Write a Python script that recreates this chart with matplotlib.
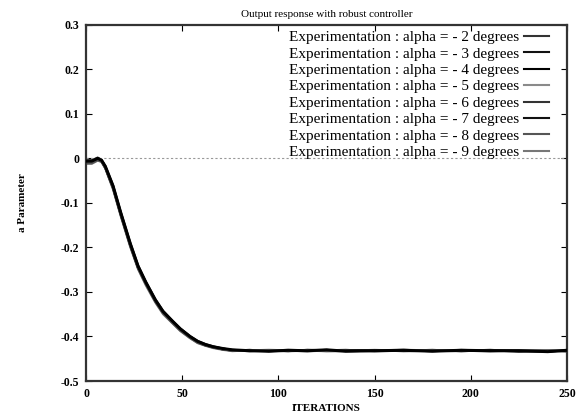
import matplotlib
matplotlib.use("Agg")
import matplotlib.pyplot as plt

iterations = [0, 3, 6, 8, 10, 14, 18, 23, 27, 31, 36, 40, 45, 49, 54, 58, 62, 66,
              71, 76, 85, 95, 105, 115, 125, 135, 150, 165, 180, 195, 210, 225, 240, 250]

alpha_m2 = [-0.008, -0.008, -0.002, -0.005, -0.020, -0.065, -0.125, -0.195, -0.245,
            -0.280, -0.320, -0.346, -0.368, -0.385, -0.402, -0.413, -0.419, -0.424,
            -0.428, -0.432, -0.431, -0.432, -0.433, -0.430, -0.431, -0.432, -0.431,
            -0.430, -0.432, -0.433, -0.431, -0.434, -0.432, -0.433]
alpha_m3 = [-0.010, -0.010, -0.004, -0.007, -0.022, -0.068, -0.128, -0.198, -0.247,
            -0.283, -0.322, -0.348, -0.370, -0.386, -0.403, -0.414, -0.420, -0.425,
            -0.429, -0.431, -0.432, -0.431, -0.432, -0.431, -0.432, -0.431, -0.432,
            -0.431, -0.431, -0.432, -0.432, -0.433, -0.433, -0.432]
alpha_m4 = [-0.006, -0.006, 0.000, -0.004, -0.018, -0.062, -0.122, -0.192, -0.242,
            -0.278, -0.318, -0.344, -0.366, -0.383, -0.400, -0.411, -0.418, -0.423,
            -0.427, -0.430, -0.432, -0.433, -0.431, -0.432, -0.430, -0.433, -0.432,
            -0.431, -0.433, -0.431, -0.432, -0.432, -0.434, -0.431]
alpha_m5 = [-0.012, -0.012, -0.005, -0.008, -0.023, -0.070, -0.130, -0.200, -0.249,
            -0.285, -0.324, -0.350, -0.371, -0.388, -0.404, -0.415, -0.421, -0.426,
            -0.430, -0.433, -0.431, -0.432, -0.430, -0.431, -0.433, -0.432, -0.430,
            -0.432, -0.432, -0.431, -0.433, -0.432, -0.432, -0.434]
alpha_m6 = [-0.004, -0.004, 0.002, -0.003, -0.017, -0.060, -0.120, -0.190, -0.240,
            -0.276, -0.316, -0.342, -0.365, -0.382, -0.399, -0.410, -0.417, -0.422,
            -0.427, -0.431, -0.433, -0.431, -0.433, -0.432, -0.431, -0.430, -0.433,
            -0.432, -0.430, -0.433, -0.431, -0.431, -0.433, -0.432]
alpha_m7 = [-0.009, -0.009, -0.003, -0.006, -0.021, -0.066, -0.126, -0.196, -0.246,
            -0.281, -0.321, -0.347, -0.369, -0.386, -0.402, -0.413, -0.420, -0.424,
            -0.429, -0.432, -0.430, -0.433, -0.432, -0.433, -0.432, -0.431, -0.431,
            -0.433, -0.432, -0.432, -0.430, -0.433, -0.431, -0.433]
alpha_m8 = [-0.011, -0.011, -0.004, -0.007, -0.022, -0.067, -0.127, -0.197, -0.247,
            -0.282, -0.322, -0.348, -0.370, -0.387, -0.403, -0.414, -0.420, -0.425,
            -0.429, -0.431, -0.431, -0.430, -0.431, -0.432, -0.433, -0.433, -0.432,
            -0.430, -0.431, -0.432, -0.433, -0.431, -0.432, -0.432]
alpha_m9 = [-0.007, -0.007, -0.001, -0.005, -0.019, -0.063, -0.123, -0.193, -0.243,
            -0.279, -0.319, -0.345, -0.367, -0.384, -0.401, -0.412, -0.418, -0.423,
            -0.428, -0.432, -0.432, -0.432, -0.432, -0.430, -0.431, -0.432, -0.433,
            -0.431, -0.433, -0.430, -0.432, -0.432, -0.431, -0.433]

series = [alpha_m2, alpha_m3, alpha_m4, alpha_m5, alpha_m6, alpha_m7, alpha_m8, alpha_m9]
labels = ["Experimentation : alpha = - %d degrees" % d for d in range(2, 10)]
colors = ["#333333", "#111111", "#000000", "#8a8a8a", "#333333", "#111111", "#555555", "#777777"]

xticks = [0, 50, 100, 150, 200, 250]
yticks = [-0.5, -0.4, -0.3, -0.2, -0.1, 0, 0.1, 0.2, 0.3]
ytick_labels = ["-0.5", "-0.4", "-0.3", "-0.2", "-0.1", "0", "0.1", "0.2", "0.3"]

fig = plt.figure(figsize=(5.78, 4.17), dpi=100)
ax = fig.add_axes([0.149, 0.0863, 0.832, 0.854])

lines = []
for ys, lab, c in zip(series, labels, colors):
    ln, = ax.plot(iterations, ys, color=c, lw=1.5, label=lab)
    lines.append(ln)
# dark trace on top so the bundle reads black
ax.plot(iterations, alpha_m4, color="#000000", lw=2.2, zorder=3)

ax.axhline(0, color="#999999", lw=0.8, ls=(0, (2, 2)))

ax.set_xlim(0, 250)
ax.set_ylim(-0.5, 0.3)
ax.set_xticks(xticks)
ax.set_yticks(yticks)
ax.set_yticklabels(ytick_labels)
ax.tick_params(direction="in", length=4, width=0.8, top=True, right=True,
               labelsize=8.5, pad=5)
for lab in ax.get_xticklabels() + ax.get_yticklabels():
    lab.set_family("Liberation Serif")
    lab.set_fontweight("bold")
for sp in ax.spines.values():
    sp.set_linewidth(1.6)
    sp.set_color("#333333")

ax.set_title("Output response with robust controller", fontsize=8,
             family="Liberation Serif", pad=6)
ax.set_xlabel("ITERATIONS", fontsize=8, family="Liberation Serif",
              fontweight="bold", labelpad=3)
ax.set_ylabel("a Parameter", fontsize=8, family="Liberation Serif",
              fontweight="bold", labelpad=24)

leg = ax.legend(handles=lines, loc="upper right", bbox_to_anchor=(0.968, 0.993),
                frameon=False, markerfirst=False,
                prop={"family": "Liberation Serif", "size": 11},
                handlelength=1.6, labelspacing=0.18, handletextpad=0.35,
                borderaxespad=0.0, borderpad=0.2)

fig.savefig("out.png", dpi=100)
